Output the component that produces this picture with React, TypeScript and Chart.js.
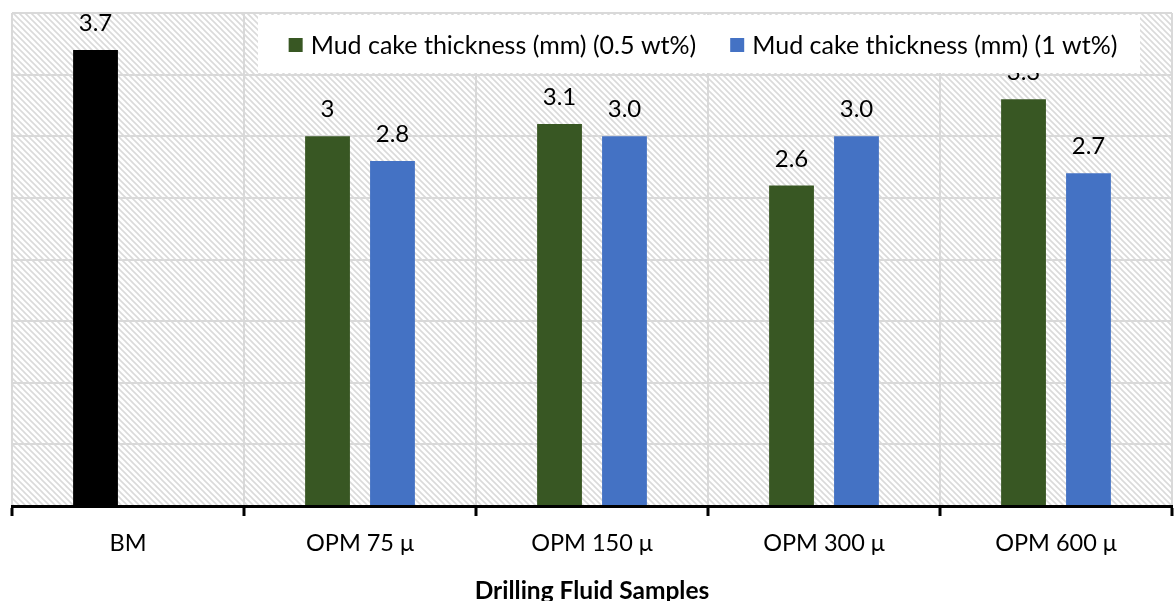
import React, { useEffect, useRef } from "react";
import { Chart, registerables } from "chart.js";

Chart.register(...registerables);

const categories = ["BM", "OPM 75 μ", "OPM 150 μ", "OPM 300 μ", "OPM 600 μ"];
const seriesNames = ["Mud cake thickness (mm) (0.5 wt%)", "Mud cake thickness (mm) (1 wt%)"];
const values05 = [3.7, 3.0, 3.1, 2.6, 3.3];
const values1 = [null, 2.8, 3.0, 3.0, 2.7];
const valueLabels05 = ["3.7", "3", "3.1", "2.6", "3.3"];
const valueLabels1 = ["", "2.8", "3.0", "3.0", "2.7"];
const barColors05 = ["#000000", "#385723", "#385723", "#385723", "#385723"];
const legendColors = ["#385723", "#4472C4"];
const blueColor = "#4472C4";
const xTitle = "Drilling Fluid Samples";
const yMin = 0;
const yMax = 4;
const yStep = 0.5;

const FONT = "Lato";
const valueLabels = [valueLabels05, valueLabels1];

function makePattern(ctx: CanvasRenderingContext2D) {
  const s = 6;
  const c = document.createElement("canvas");
  c.width = s;
  c.height = s;
  const g = c.getContext("2d")!;
  g.fillStyle = "#ffffff";
  g.fillRect(0, 0, s, s);
  g.strokeStyle = "#dadada";
  g.lineWidth = 1.6;
  g.beginPath();
  g.moveTo(-1, -1);
  g.lineTo(s + 1, s + 1);
  g.moveTo(-1, s - 1);
  g.lineTo(1, s + 1);
  g.moveTo(s - 1, -1);
  g.lineTo(s + 1, 1);
  g.stroke();
  return ctx.createPattern(c, "repeat");
}

const backgroundPlugin = {
  id: "hatchBackground",
  beforeDraw(chart: any) {
    const { ctx, chartArea, width, height } = chart;
    ctx.save();
    ctx.fillStyle = "#ffffff";
    ctx.fillRect(0, 0, width, height);
    const p = makePattern(ctx);
    if (p) {
      ctx.fillStyle = p;
      ctx.fillRect(chartArea.left, chartArea.top, chartArea.right - chartArea.left, chartArea.bottom - chartArea.top);
    }
    ctx.restore();
  },
};

const valueLabelPlugin = {
  id: "valueLabels",
  afterDatasetsDraw(chart: any) {
    const { ctx } = chart;
    ctx.save();
    ctx.font = `24px ${FONT}`;
    ctx.fillStyle = "#000000";
    ctx.textAlign = "center";
    ctx.textBaseline = "alphabetic";
    chart.data.datasets.forEach((ds: any, di: number) => {
      const meta = chart.getDatasetMeta(di);
      meta.data.forEach((el: any, i: number) => {
        const txt = valueLabels[di][i];
        if (!txt || ds.data[i] == null) return;
        ctx.fillText(txt, el.x, el.y - 19);
      });
    });
    ctx.restore();
  },
};

const legendPlugin = {
  id: "boxLegend",
  afterDraw(chart: any) {
    const { ctx } = chart;
    ctx.save();
    ctx.fillStyle = "#ffffff";
    ctx.fillRect(258, 15, 882, 58);
    ctx.font = `25px ${FONT}`;
    const box = 14;
    const gapBoxText = 8;
    const gapItems = 34;
    const widths = seriesNames.map((t) => ctx.measureText(t).width);
    const total = widths.reduce((a, w) => a + box + gapBoxText + w, 0) + gapItems;
    let x = 703 - total / 2;
    const cy = 45;
    ctx.textBaseline = "middle";
    ctx.textAlign = "left";
    seriesNames.forEach((t, i) => {
      ctx.fillStyle = legendColors[i];
      ctx.fillRect(x, cy - box / 2, box, box);
      ctx.fillStyle = "#000000";
      ctx.fillText(t, x + box + gapBoxText, cy + 1);
      x += box + gapBoxText + widths[i] + gapItems;
    });
    ctx.restore();
  },
};

export default function App() {
  const ref = useRef<HTMLCanvasElement>(null);
  useEffect(() => {
    if (!ref.current) return;
    const chart = new Chart(ref.current, {
      type: "bar",
      data: {
        labels: categories,
        datasets: [
          {
            label: seriesNames[0],
            data: values05,
            backgroundColor: barColors05,
            barPercentage: 0.69,
            categoryPercentage: 0.56,
          },
          {
            label: seriesNames[1],
            data: values1 as any,
            backgroundColor: blueColor,
            barPercentage: 0.69,
            categoryPercentage: 0.56,
          },
        ],
      },
      options: {
        animation: false,
        responsive: true,
        maintainAspectRatio: false,
        layout: { padding: { top: 13, right: 4, left: 0, bottom: 0 } },
        plugins: {
          legend: { display: false },
          tooltip: { enabled: false },
        },
        scales: {
          x: {
            offset: true,
            grid: {
              offset: true,
              color: "#d9d9d9",
              lineWidth: 2,
              tickColor: "#000000",
              tickLength: 10,
              tickWidth: 3,
            },
            border: { display: true, color: "#000000", width: 3 },
            ticks: {
              color: "#000000",
              font: { family: FONT, size: 23.5 },
              padding: 13,
              maxRotation: 0,
            },
            title: {
              display: true,
              text: xTitle,
              color: "#000000",
              font: { family: FONT, size: 24.5, weight: "bold" },
              padding: { top: 0, bottom: -5 },
            },
            afterFit(scale: any) {
              scale.height = 95;
            },
          },
          y: {
            min: yMin,
            max: yMax,
            ticks: { display: false, stepSize: yStep },
            grid: { color: "#d9d9d9", lineWidth: 2, drawTicks: false },
            border: { display: false },
            afterFit(scale: any) {
              scale.width = 12;
            },
          },
        },
      },
      plugins: [backgroundPlugin, valueLabelPlugin, legendPlugin],
    });
    return () => chart.destroy();
  }, []);
  return (
    <div style={{ position: "absolute", left: 0, top: 0, width: 1176, height: 601 }}>
      <canvas ref={ref} />
    </div>
  );
}
